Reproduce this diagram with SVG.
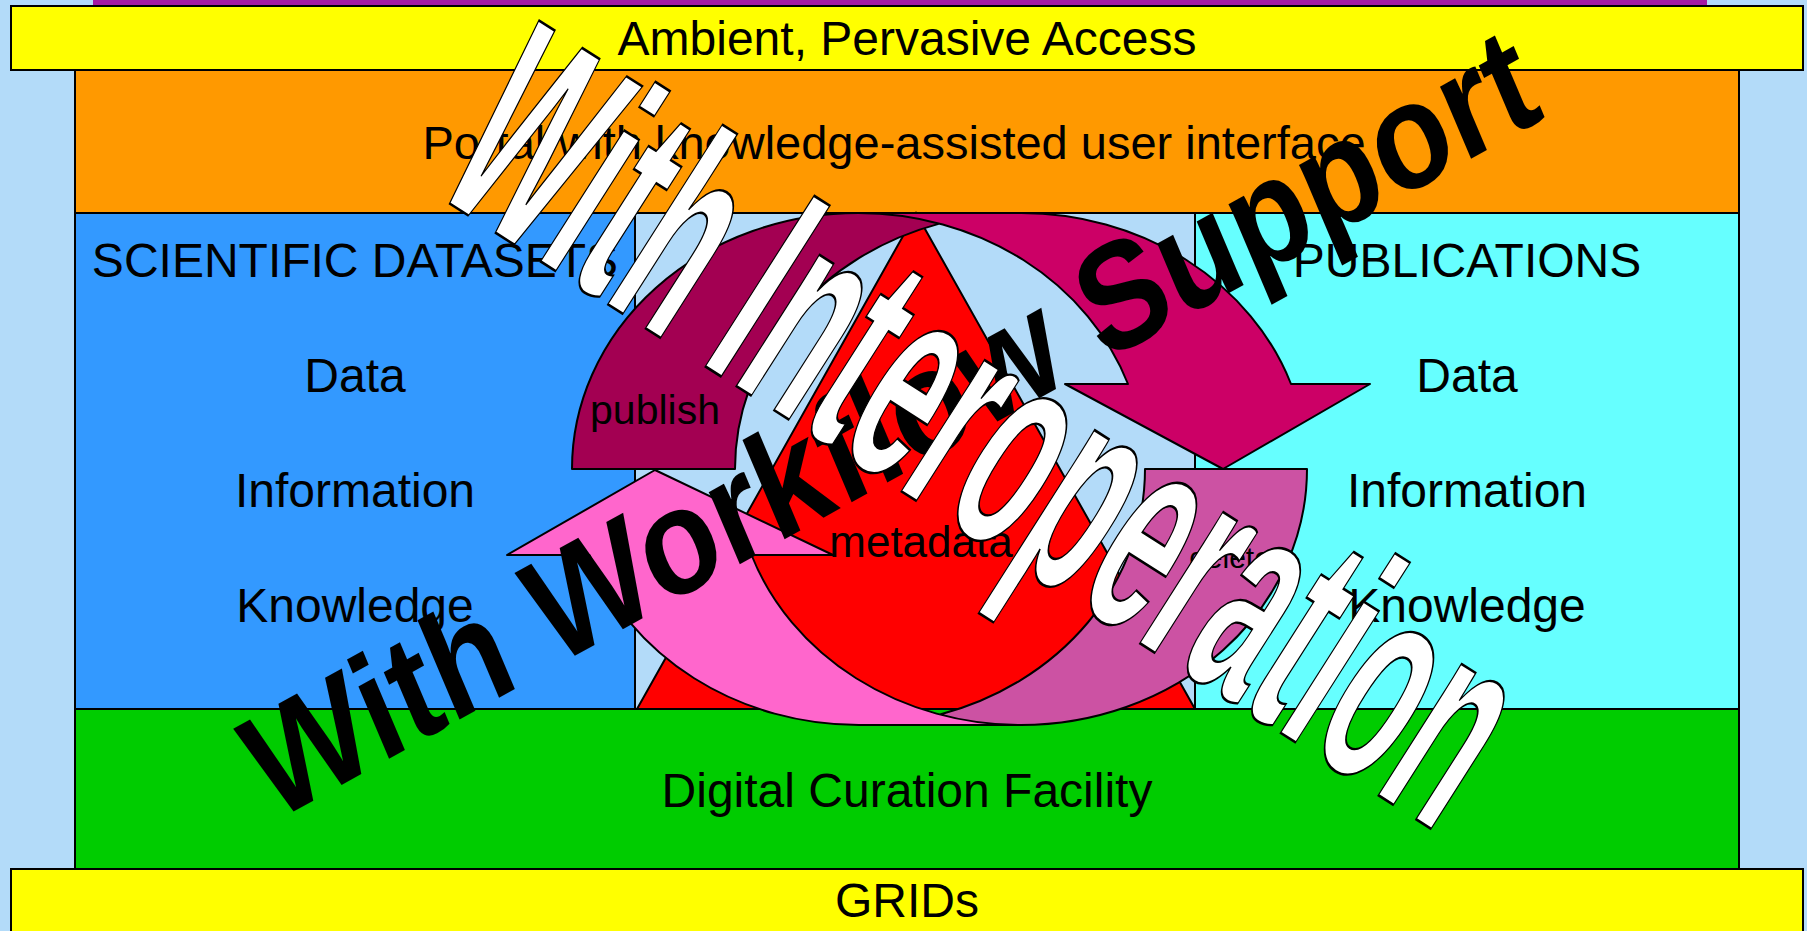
<svg xmlns="http://www.w3.org/2000/svg" width="1807" height="931" viewBox="0 0 1807 931">
<defs>
<style>
.box{stroke:#000;stroke-width:2}
.lbl{font-family:"Liberation Sans",Arial,sans-serif;font-size:48px;fill:#000;text-anchor:middle}
.arrow{stroke:none}
.outline{fill:none;stroke:#000;stroke-width:2;stroke-linejoin:round}
.wa{font-family:"Liberation Sans",Arial,sans-serif;font-weight:bold}
.wa-white{fill:#fff;stroke:#000;stroke-width:2;vector-effect:non-scaling-stroke}
.wa-black{fill:#000}
</style>
</defs>
<rect x="0" y="0" width="1807" height="931" fill="#b3dbf9"/>
<g id="top-strip"><rect x="93" y="0" width="1614" height="10" fill="#a41ba4"/></g>
<g id="ambient-access">
<rect class="box" x="11" y="6" width="1792" height="64" fill="#ffff00"/>
<text class="lbl" x="907" y="55">Ambient, Pervasive Access</text>
</g>
<g id="portal">
<rect class="box" x="75" y="70" width="1664" height="143" fill="#ff9900"/>
<text class="lbl" x="894" y="159" style="font-size:47px">Portal with knowledge-assisted user interface</text>
</g>
<g id="scientific-datasets">
<rect class="box" x="75" y="213" width="560" height="496" fill="#3399ff"/>
<text class="lbl" x="355" y="277">SCIENTIFIC DATASETS</text>
<text class="lbl" x="355" y="392">Data</text>
<text class="lbl" x="355" y="507">Information</text>
<text class="lbl" x="355" y="622">Knowledge</text>
</g>
<g id="middle-panel"><rect class="box" x="635" y="213" width="560" height="496" fill="#b3dbf9"/></g>
<g id="publications">
<rect class="box" x="1195" y="213" width="544" height="496" fill="#66ffff"/>
<text class="lbl" x="1467" y="277">PUBLICATIONS</text>
<text class="lbl" x="1467" y="392">Data</text>
<text class="lbl" x="1467" y="507">Information</text>
<text class="lbl" x="1467" y="622">Knowledge</text>
</g>
<g id="digital-curation-facility">
<rect class="box" x="75" y="709" width="1664" height="160" fill="#00cc00"/>
<text class="lbl" x="907" y="807">Digital Curation Facility</text>
</g>
<g id="grids">
<rect class="box" x="11" y="869" width="1792" height="80" fill="#ffff00"/>
<text class="lbl" x="907" y="917">GRIDs</text>
</g>
<g id="metadata">
<polygon class="box" points="916,213 1195,709 637,709" fill="#ff0000"/>
</g>
<g id="connectors">
<g id="arrow-top">
<path class="arrow" fill="#cc0066" d="M1223 469 L1065 384 L1128 384 A286 256 0 0 0 858 213 L1021 213 A286 256 0 0 1 1291 384 L1370 384 Z"/>
<path class="arrow" fill="#a30052" d="M939.5 223.6 A286 256 0 0 0 735 469 L572 469 A286 256 0 0 1 939.5 223.6 Z"/>
<path class="outline" d="M939.5 223.6 A286 256 0 0 0 735 469 L572 469 A286 256 0 0 1 858 213 L1021 213 A286 256 0 0 1 1291 384 L1370 384 L1223 469 L1065 384 L1128 384 A286 256 0 0 0 858 213"/>
</g>
<g id="arrow-bottom">
<path class="arrow" fill="#ff66cc" d="M655 470 L833 555 L751.5 555 A286 256 0 0 0 1021 725 L859 725 A286 256 0 0 1 589.5 555 L507 555 Z"/>
<path class="arrow" fill="#cc52a3" d="M940 714.5 A286 256 0 0 0 1145 469 L1307 469 A286 256 0 0 1 940 714.5 Z"/>
<path class="outline" d="M940 714.5 A286 256 0 0 0 1145 469 L1307 469 A286 256 0 0 1 1021 725 L859 725 A286 256 0 0 1 589.5 555 L507 555 L655 470 L833 555 L751.5 555 A286 256 0 0 0 1021 725"/>
</g>
</g>
<g id="cycle-labels">
<text class="lbl" x="655" y="424" style="font-size:41px">publish</text>
<text class="lbl" x="921" y="557" style="font-size:44px">metadata</text>
<text class="lbl" x="1230" y="568" style="font-size:30px">delete</text>
</g>
<g id="wordart">
<text class="wa wa-black" transform="translate(273,823) rotate(-29) skewX(-6) scale(1,1.12)" font-size="132" textLength="1456" lengthAdjust="spacingAndGlyphs">With Workflow Support</text>
<text class="wa wa-white" transform="translate(430,191) rotate(32.5) scale(1,2.28)" font-size="129" textLength="1195" lengthAdjust="spacingAndGlyphs">With Interoperation</text>
</g>
</svg>
